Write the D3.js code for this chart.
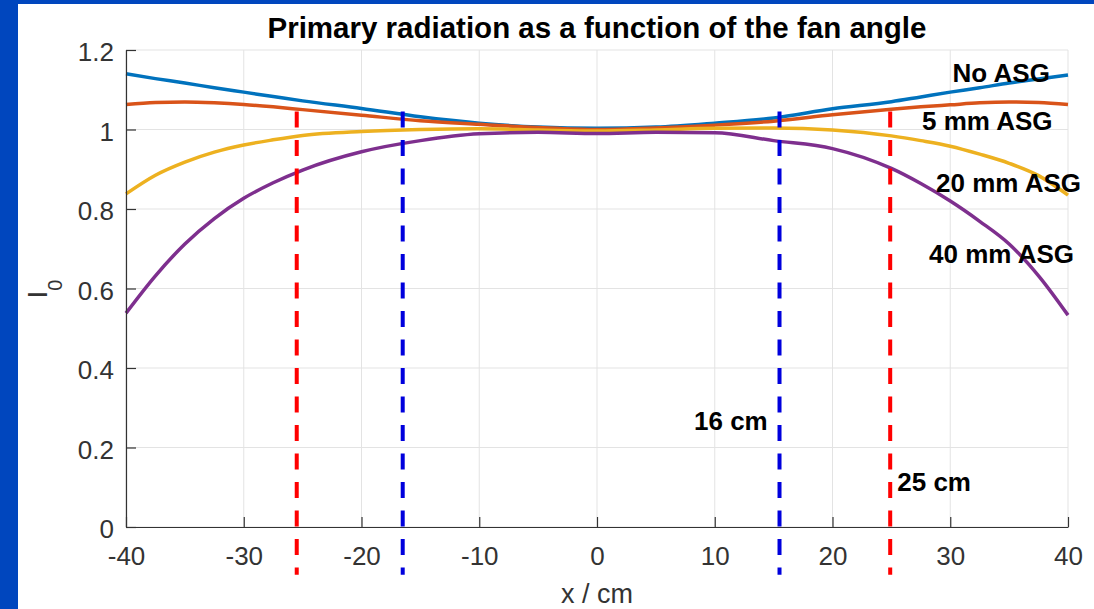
<!DOCTYPE html>
<html>
<head>
<meta charset="utf-8">
<script src="https://cdn.jsdelivr.net/npm/d3@7"></script>
<style>
  html, body { margin: 0; padding: 0; background: #ffffff; }
  svg { display: block; font-family: "Liberation Sans", Arial, sans-serif; }
</style>
</head>
<body>
<svg id="chart"></svg>
<script>
// fan position in cm
const xs = [-40, -37.5, -35, -32.5, -30, -27.5, -25, -20, -15, -10, -5, 0, 5, 10, 15, 20, 25, 27.5, 30, 32.5, 35, 37.5, 40];

// relative primary intensity per grid type
const noAsg   = [1.140, 1.128, 1.117, 1.105, 1.094, 1.083, 1.072, 1.053, 1.032, 1.016, 1.006, 1.003, 1.006, 1.016, 1.029, 1.052, 1.070, 1.082, 1.094, 1.105, 1.117, 1.127, 1.137];
const asg5mm  = [1.063, 1.068, 1.069, 1.067, 1.063, 1.057, 1.050, 1.036, 1.022, 1.013, 1.005, 1.000, 1.004, 1.011, 1.021, 1.037, 1.051, 1.057, 1.062, 1.067, 1.069, 1.068, 1.063];
const asg20mm = [0.838, 0.885, 0.918, 0.943, 0.961, 0.974, 0.985, 0.995, 1.000, 1.002, 0.999, 0.996, 0.999, 1.003, 1.004, 0.999, 0.984, 0.972, 0.958, 0.938, 0.915, 0.884, 0.835];
const asg40mm = [0.538, 0.632, 0.712, 0.776, 0.827, 0.866, 0.898, 0.944, 0.972, 0.989, 0.993, 0.990, 0.993, 0.992, 0.972, 0.952, 0.902, 0.864, 0.820, 0.769, 0.712, 0.632, 0.533];

const seriesNames  = ["No ASG", "5 mm ASG", "20 mm ASG", "40 mm ASG"];
const seriesValues = [noAsg, asg5mm, asg20mm, asg40mm];
const seriesColors = ["#0072BD", "#D95319", "#EDB120", "#7E2F8E"];

// label anchor (data coords) for each series name
const labelX = [30.2, 27.6, 28.8, 28.2];
const labelY = [1.12, 0.999, 0.8435, 0.665];

// dashed markers at the edge of the 16 cm and 25 cm fields
const markerX      = [-25.5, -16.5, 15.5, 24.9];
const markerColors = ["#ff0000", "#0000dd", "#0000dd", "#ff0000"];
const markerTop = 1.045, markerBottom = -0.12;

const fieldNotes = [
    { text: "16 cm", x: 14.5, y: 0.244, anchor: "end" },
    { text: "25 cm", x: 25.5, y: 0.0913, anchor: "start" }
];

const xTicks = [-40, -30, -20, -10, 0, 10, 20, 30, 40];
const yTicks = [0, 0.2, 0.4, 0.6, 0.8, 1, 1.2];

const W = 1094, H = 609;
const margin = { top: 50, right: 26, bottom: 82, left: 126 };
const width = W - margin.left - margin.right;
const height = H - margin.top - margin.bottom;

const svg = d3.select("#chart").attr("width", W).attr("height", H);

// blue slide frame
svg.append("rect").attr("width", W).attr("height", H).attr("fill", "#0046be");
svg.append("rect").attr("x", 18).attr("y", 4).attr("width", W - 18).attr("height", H - 4).attr("fill", "#ffffff");

const x = d3.scaleLinear().domain([-40, 40]).range([0, width]);
const y = d3.scaleLinear().domain([0, 1.2]).range([height, 0]);

const g = svg.append("g").attr("transform", `translate(${margin.left}, ${margin.top})`);

// grid
g.append("g").selectAll("line").data(xTicks).join("line")
    .attr("x1", d => x(d)).attr("x2", d => x(d))
    .attr("y1", 0).attr("y2", height)
    .attr("stroke", "#e3e3e3").attr("stroke-width", 1);
g.append("g").selectAll("line").data(yTicks).join("line")
    .attr("x1", 0).attr("x2", width)
    .attr("y1", d => y(d)).attr("y2", d => y(d))
    .attr("stroke", "#e3e3e3").attr("stroke-width", 1);

// curves
const line = d3.line()
    .x((d, i) => x(xs[i]))
    .y(d => y(d))
    .curve(d3.curveMonotoneX);

g.append("g").selectAll("path").data(seriesValues).join("path")
    .attr("d", d => line(d))
    .attr("fill", "none")
    .attr("stroke", (d, i) => seriesColors[i])
    .attr("stroke-width", 3.5)
    .attr("stroke-linejoin", "round");

// dashed field markers
g.append("g").selectAll("line").data(markerX).join("line")
    .attr("x1", d => x(d)).attr("x2", d => x(d))
    .attr("y1", y(markerTop)).attr("y2", y(markerBottom))
    .attr("stroke", (d, i) => markerColors[i])
    .attr("stroke-width", 4)
    .attr("stroke-dasharray", "16 12.5");

// axes
const xAxis = g.append("g")
    .attr("transform", `translate(0, ${height})`)
    .call(d3.axisBottom(x).tickValues(xTicks).tickSize(-10).tickSizeOuter(0).tickPadding(19.5).tickFormat(d => String(d)));
const yAxis = g.append("g")
    .call(d3.axisLeft(y).tickValues(yTicks).tickSize(-10).tickSizeOuter(0).tickPadding(12).tickFormat(d => String(d)));

[xAxis, yAxis].forEach(a => {
    a.select(".domain").attr("stroke", "#333333").attr("stroke-width", 1.2);
    a.selectAll(".tick line").attr("stroke", "#333333").attr("stroke-width", 1.2);
    a.selectAll(".tick text")
        .attr("fill", "#333333")
        .style("font-size", "26px")
        .style("font-family", "'Liberation Sans', Arial, sans-serif");
});
yAxis.selectAll(".tick text").attr("dy", "0.42em");

// series labels
g.append("g").selectAll("text").data(seriesNames).join("text")
    .attr("x", (d, i) => x(labelX[i]))
    .attr("y", (d, i) => y(labelY[i]))
    .attr("font-weight", "bold")
    .attr("font-size", 26)
    .attr("fill", "#000")
    .text(d => d);

g.append("g").selectAll("text").data(fieldNotes).join("text")
    .attr("x", d => x(d.x))
    .attr("y", d => y(d.y))
    .attr("text-anchor", d => d.anchor)
    .attr("font-weight", "bold")
    .attr("font-size", 26)
    .attr("fill", "#000")
    .text(d => d.text);

// title
svg.append("text")
    .attr("x", margin.left + width / 2)
    .attr("y", 38)
    .attr("text-anchor", "middle")
    .attr("font-weight", "bold")
    .attr("font-size", 29.5)
    .attr("fill", "#000")
    .text("Primary radiation as a function of the fan angle");

// x label
svg.append("text")
    .attr("x", margin.left + width / 2)
    .attr("y", 603)
    .attr("text-anchor", "middle")
    .attr("font-size", 27)
    .attr("fill", "#333333")
    .text("x / cm");

// y label I0, rotated
const yl = svg.append("text")
    .attr("transform", `translate(47, 289) rotate(-90)`)
    .attr("text-anchor", "middle")
    .attr("font-size", 28)
    .attr("fill", "#333333");
yl.append("tspan").text("I");
yl.append("tspan").attr("font-size", 20).attr("dy", 15).text("0");
</script>
</body>
</html>
